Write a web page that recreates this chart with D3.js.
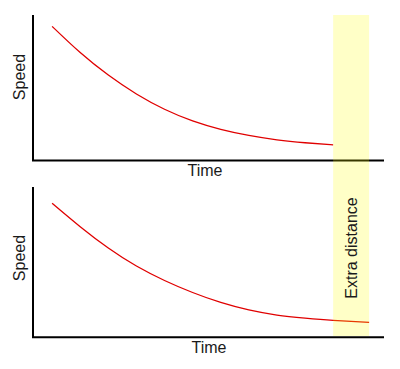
<!DOCTYPE html>
<html>
<head>
<meta charset="utf-8">
<script src="https://cdn.jsdelivr.net/npm/d3@7"></script>
<style>
  body { margin: 0; background: #fff; }
  text { font-family: "Liberation Sans", Arial, sans-serif; fill: #1a1a1a; }
</style>
</head>
<body>
<script>
// data
var timeTop = [0, 1, 2, 3, 4, 5, 6, 7, 8, 9, 10];
var speedTop = [9.22, 7.42, 5.87, 4.57, 3.52, 2.72, 2.14, 1.72, 1.42, 1.22, 1.07];
var timeBottom = [0, 1, 2, 3, 4, 5, 6, 7, 8, 9, 10, 11.28];
var speedBottom = [8.92, 7.36, 5.94, 4.74, 3.78, 2.98, 2.32, 1.82, 1.48, 1.28, 1.13, 0.99];
var extraBand = [10, 11.28];
var axisLabels = { x: "Time", y: "Speed", band: "Extra distance" };

var width = 400,
  height = 369;

var svg = d3.select("body").append("svg").attr("width", width).attr("height", height);

// time axis runs a bit either side of the data
var x = d3.scaleLinear().domain([-0.68, 11.81]).range([33, 384]);

var panels = [
  { time: timeTop, speed: speedTop, top: 15, bottom: 160.5, timeX: 205, timeY: 176, speedY: 77 },
  { time: timeBottom, speed: speedBottom, top: 187, bottom: 337.3, timeX: 209, timeY: 353, speedY: 258 }
];

panels.forEach(function (p) {
  var y = d3.scaleLinear().domain([0, 10]).range([p.bottom, p.top]);
  var g = svg.append("g");

  var line = d3.line()
    .x(function (d, i) { return x(p.time[i]); })
    .y(function (d) { return y(d); })
    .curve(d3.curveNatural);

  g.append("path")
    .datum(p.speed)
    .attr("d", line)
    .attr("fill", "none")
    .attr("stroke", "#e00000")
    .attr("stroke-width", 1.3);

  // axes: plain L shape, no ticks
  g.append("path")
    .attr("d", "M" + x.range()[0] + "," + y(10) + "V" + y(0) + "H" + x.range()[1])
    .attr("fill", "none")
    .attr("stroke", "#000")
    .attr("stroke-width", 2);

  g.append("text")
    .attr("x", p.timeX)
    .attr("y", p.timeY)
    .attr("text-anchor", "middle")
    .style("font-size", "16px")
    .text(axisLabels.x);

  g.append("text")
    .attr("transform", "translate(25," + p.speedY + ") rotate(-90)")
    .attr("text-anchor", "middle")
    .style("font-size", "16px")
    .text(axisLabels.y);
});

// yellow band for the extra distance, laid over both panels
svg.append("rect")
  .attr("x", x(extraBand[0]))
  .attr("width", x(extraBand[1]) - x(extraBand[0]))
  .attr("y", 15)
  .attr("height", 321)
  .attr("fill", "#ffff00")
  .attr("opacity", 0.22);

svg.append("text")
  .attr("transform", "translate(357,248) rotate(-90)")
  .attr("text-anchor", "middle")
  .style("font-size", "16px")
  .text(axisLabels.band);
</script>
</body>
</html>
